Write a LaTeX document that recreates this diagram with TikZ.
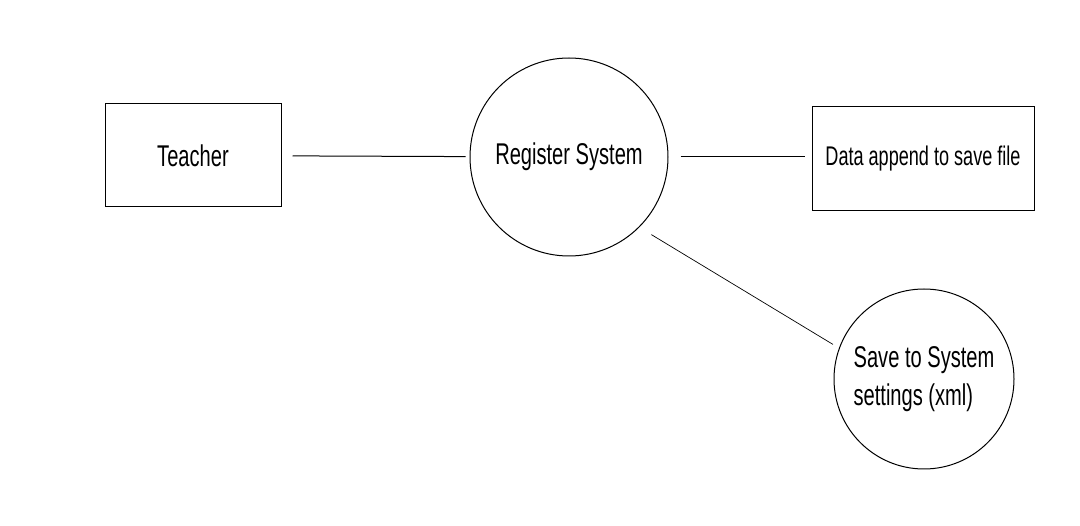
\documentclass[tikz,border=0pt]{standalone}
\usepackage{fontspec}
\setmainfont[FakeStretch=0.67]{Liberation Sans}
\begin{document}
\begin{tikzpicture}[x=1pt,y=-1pt,line width=1pt,
                    entity/.style={rectangle,draw,inner sep=0pt,font=\fontsize{30}{38}\selectfont},
                    process/.style={circle,draw,inner sep=0pt,font=\fontsize{30}{38}\selectfont}]

    \useasboundingbox (0,0) rectangle (1080,526);

    % Define vertices
    \node[entity,minimum width=176pt,minimum height=103pt] (T) at (193,155.5) {Teacher};
    \node[process,minimum size=198pt] (R) at (569,157) {Register System};
    \node[entity,minimum width=222pt,minimum height=104pt,font=\fontsize{27}{32}\selectfont] (D) at (923,159) {Data append to save file};
    \node[process,minimum size=180pt,align=left] (S) at (924,379) {Save to System\\settings (xml)};

    % Define edges
    \draw[shorten <=11pt,shorten >=4pt] (T) -- (R);
    \draw[shorten <=12pt,shorten >=7pt] (R.east) -- (R.east -| D.west);
    \draw[line width=0.7pt,shorten <=14pt,shorten >=7pt] (R.315) -- (S.160);

\end{tikzpicture}
\end{document}
